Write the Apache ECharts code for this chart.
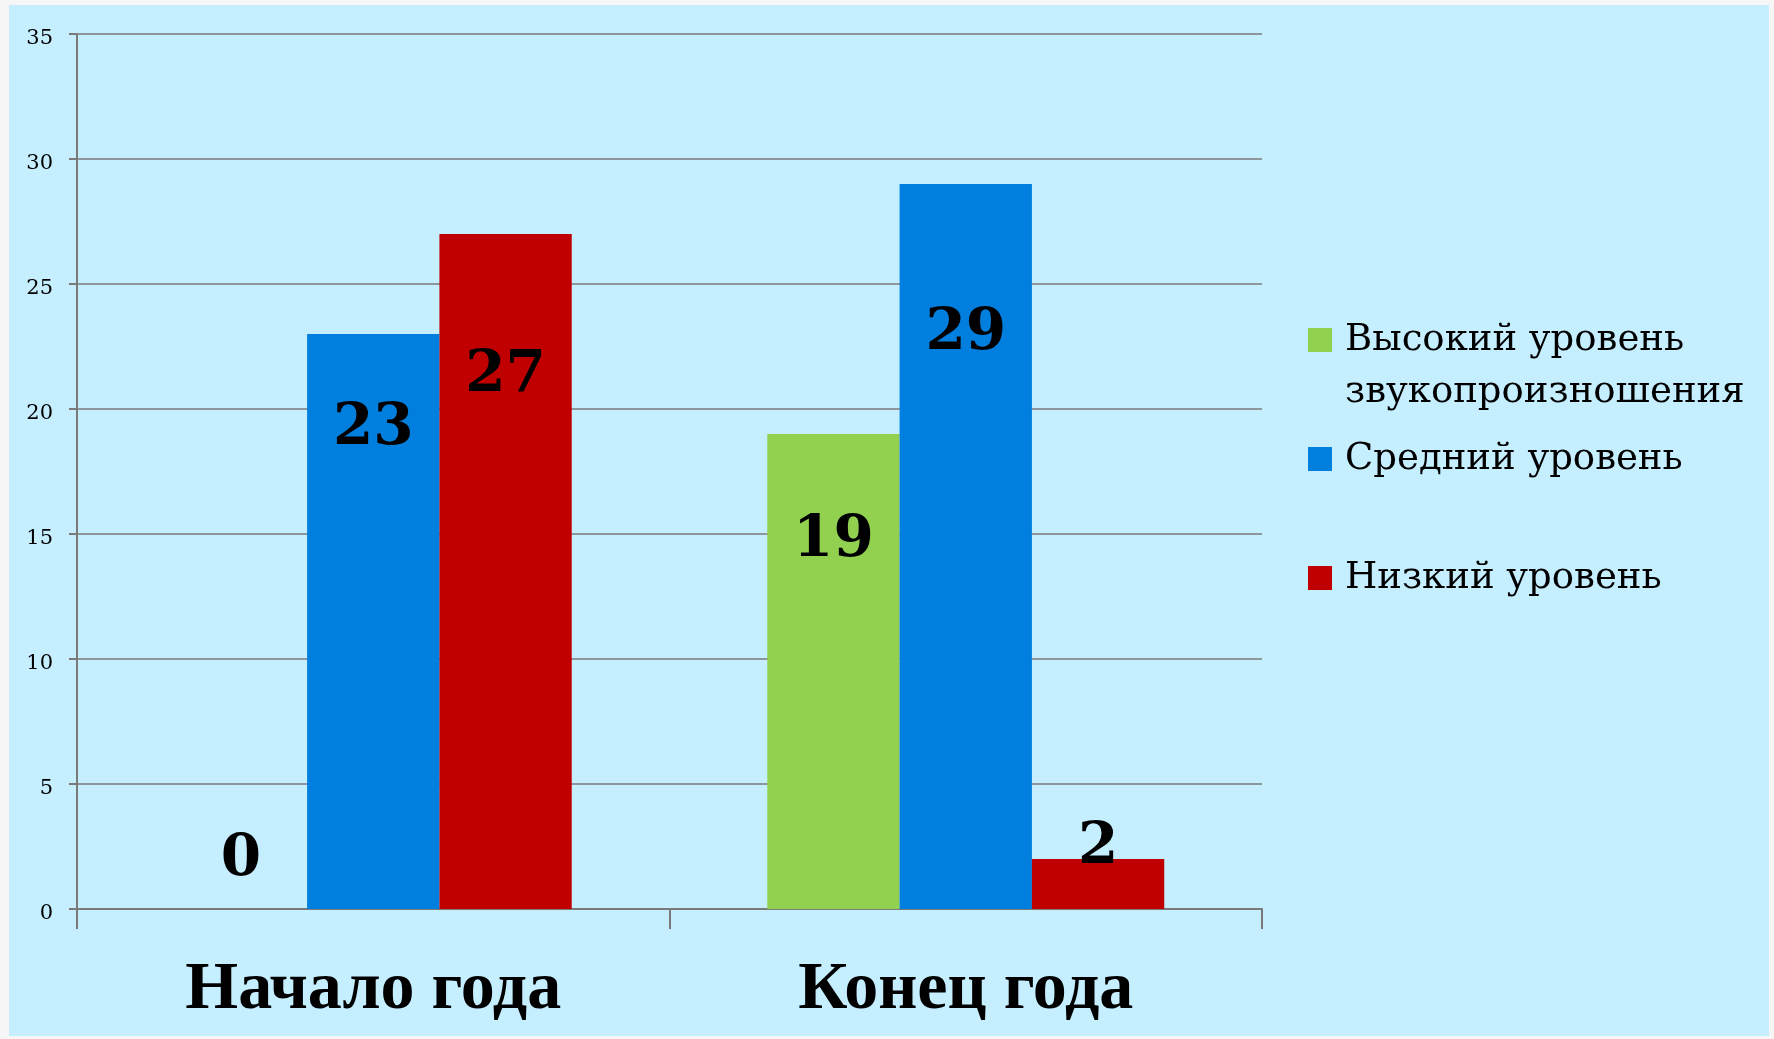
<!DOCTYPE html>
<html>
<head>
<meta charset="utf-8">
<script src="https://cdn.jsdelivr.net/npm/echarts@6/dist/echarts.min.js"></script>
<style>
  html, body { margin: 0; padding: 0; background: #f6f6f6; }
  #bg { position: absolute; left: 9px; top: 5px; width: 1760px; height: 1031px; background: #c5eeff; }
  #main { position: absolute; left: 0; top: 0; width: 1774px; height: 1039px; }
</style>
</head>
<body>
<div id="bg"></div>
<div id="main"></div>
<script>
var categories = ['Начало года', 'Конец года'];
var highLevel = [0, 19];
var midLevel = [23, 29];
var lowLevel = [27, 2];
var seriesNames = ['Высокий уровень\nзвукопроизношения', 'Средний уровень', 'Низкий уровень'];
var colors = ['#92d050', '#007fdf', '#c00000'];

// where each value label sits inside its bar (fraction of bar height from top)
var labelFrac = [[0.2, 0.225], [0.165, 0.207], [0.21, 0.2]];

function withLabels(values, fracs) {
  return values.map(function (v, i) {
    if (v === 0) return { value: v, label: { position: ['50%', -49] } };
    if (v < 5) return { value: v, label: { position: ['50%', -11] } };
    return { value: v, label: { position: ['50%', (fracs[i] * 100) + '%'] } };
  });
}

var chart = echarts.init(document.getElementById('main'));

var barLabel = {
  show: true,
  align: 'center',
  verticalAlign: 'middle',
  color: '#000',
  fontFamily: 'DejaVu Serif',
  fontWeight: 'bold',
  fontSize: 58
};

function legendAt(name, top, text) {
  return {
    data: [name],
    orient: 'vertical',
    left: 1308,
    top: top,
    padding: 0,
    itemWidth: 24,
    itemHeight: 24,
    icon: 'rect',
    selectedMode: false,
    formatter: function () { return text; },
    textStyle: {
      color: '#000',
      fontFamily: 'DejaVu Serif',
      fontSize: 37,
      lineHeight: 52,
      padding: [0, 0, 0, 8]
    }
  };
}

var option = {
  animation: false,
  backgroundColor: 'transparent',
  color: colors,
  grid: { left: 77, right: 512, top: 34, bottom: 130, containLabel: false },
  legend: [
    // blank first line keeps the icon level with the first text line
    legendAt(seriesNames[0], 262, '\n' + seriesNames[0]),
    legendAt(seriesNames[1], 433, seriesNames[1]),
    legendAt(seriesNames[2], 552, seriesNames[2])
  ],
  xAxis: {
    type: 'category',
    data: categories,
    axisLine: { lineStyle: { color: '#7a7a7a', width: 2 } },
    axisTick: { show: true, length: 20, lineStyle: { color: '#7a7a7a', width: 2 } },
    axisLabel: {
      color: '#000',
      fontFamily: 'Liberation Serif',
      fontWeight: 'bold',
      fontSize: 68,
      margin: 47
    }
  },
  yAxis: {
    type: 'value',
    min: 0,
    max: 35,
    interval: 5,
    axisLine: { show: true, lineStyle: { color: '#7a7a7a', width: 2 } },
    axisTick: { show: true, length: 8, lineStyle: { color: '#7a7a7a', width: 2 } },
    splitLine: { lineStyle: { color: '#7a7a7a', width: 1.5 } },
    axisLabel: {
      color: '#000',
      fontFamily: 'DejaVu Serif',
      fontSize: 21,
      margin: 24,
      verticalAlign: 'top',
      lineHeight: 10
    }
  },
  series: [
    { name: seriesNames[0], type: 'bar', data: withLabels(highLevel, labelFrac[0]), barGap: 0, barCategoryGap: '33%', label: barLabel },
    { name: seriesNames[1], type: 'bar', data: withLabels(midLevel, labelFrac[1]), barGap: 0, barCategoryGap: '33%', label: barLabel },
    { name: seriesNames[2], type: 'bar', data: withLabels(lowLevel, labelFrac[2]), barGap: 0, barCategoryGap: '33%', label: barLabel }
  ]
};

chart.setOption(option);
</script>
</body>
</html>
